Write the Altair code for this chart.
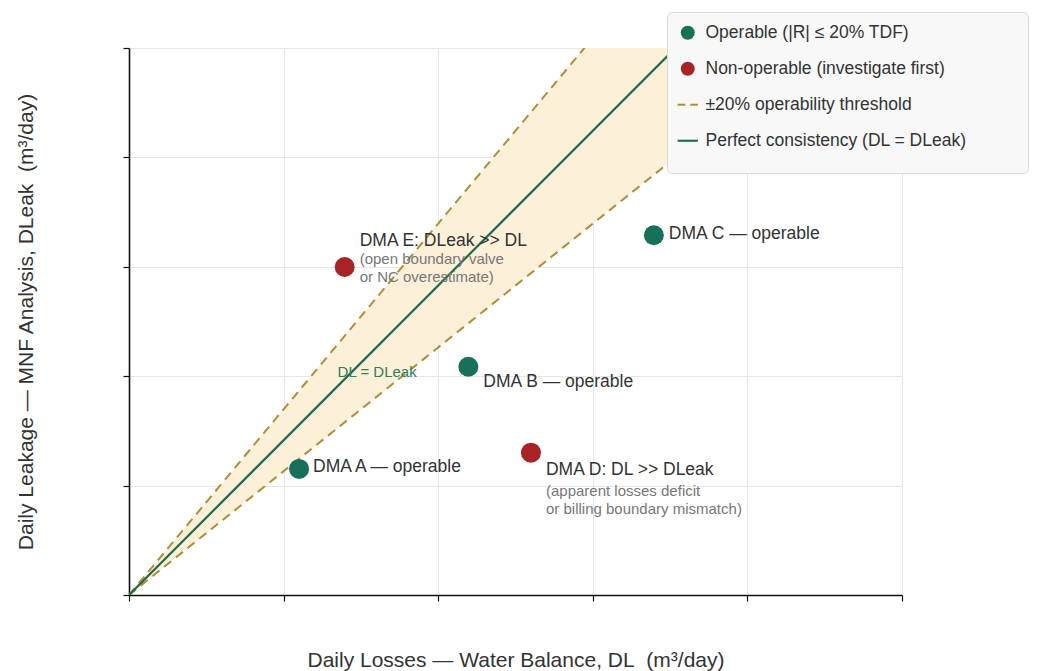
import altair as alt
import pandas as pd

# ---- data ----
dma = ["DMA A", "DMA B", "DMA C", "DMA D", "DMA E"]
dl = [220, 439, 679, 520, 279]          # Daily Losses (water balance)
dleak = [163, 295, 465, 184, 424]       # Daily Leakage (MNF analysis)
status = [
    "Operable (|R| ≤ 20% TDF)",
    "Operable (|R| ≤ 20% TDF)",
    "Operable (|R| ≤ 20% TDF)",
    "Non-operable (investigate first)",
    "Non-operable (investigate first)",
]
headline = [
    "DMA A — operable",
    "DMA B — operable",
    "DMA C — operable",
    "DMA D: DL >> DLeak",
    "DMA E: DLeak >> DL",
]
note = [
    "",
    "",
    "",
    "(apparent losses deficit\nor billing boundary mismatch)",
    "(open boundary valve\nor NC overestimate)",
]

legend_labels = [
    "Operable (|R| ≤ 20% TDF)",
    "Non-operable (investigate first)",
    "±20% operability threshold",
    "Perfect consistency (DL = DLeak)",
]
GREEN = "#16705a"
RED = "#a82326"
GOLD = "#b08d3c"
LINE_GREEN = "#1d6b4c"
BAND = "#fdf0d8"
legend_colors = [GREEN, RED, GOLD, LINE_GREEN]
DASH_PATH = "M-1.45,-0.15H-0.35V0.15H-1.45Z M0.35,-0.15H1.45V0.15H0.35Z"
SOLID_PATH = "M-1.45,-0.15H1.45V0.15H-1.45Z"
legend_shapes = ["circle", "circle", DASH_PATH, SOLID_PATH]

line_x = [0, 1000]
line_equal = [0, 1000]
line_upper = [0, 1200]
line_lower = [0, 800]

x_ticks = [0, 200, 400, 600, 800, 1000]
y_ticks = [0, 141.4, 282.8, 424.2, 565.6, 707]
x_max = 1000
y_max = 707

ref_label_x = [321]
ref_label_y = [288]
ref_label_text = ["DL = DLeak"]

FONT = "Liberation Sans"
PAD = "\u00a0" * 10 + "\u200b"  # widens the legend box like the reference

pts = pd.DataFrame({"dma": dma, "dl": dl, "dleak": dleak, "status": status,
                    "headline": headline, "note": note})
lines = pd.DataFrame({"x": line_x, "eq": line_equal, "up": line_upper, "lo": line_lower})
ref_df = pd.DataFrame({"x": ref_label_x, "y": ref_label_y, "t": ref_label_text})

xscale = alt.Scale(domain=[0, x_max], nice=False, zero=True)
yscale = alt.Scale(domain=[0, y_max], nice=False, zero=True)

xaxis = alt.Axis(values=x_ticks, labels=False, title="Daily Losses — Water Balance, DL\u00a0 (m³/day)",
                 titleFont=FONT, titleFontSize=21, titleFontWeight="normal", titleColor="#333333",
                 titlePadding=48, domainColor="#111111", domainWidth=1.6, tickColor="#111111",
                 tickSize=6, tickWidth=1.2, grid=True, gridColor="#e6e6e6")
yaxis = alt.Axis(values=y_ticks, labels=False, title="Daily Leakage — MNF Analysis, DLeak\u00a0 (m³/day)",
                 titleFont=FONT, titleFontSize=21, titleFontWeight="normal", titleColor="#333333",
                 titlePadding=86, domainColor="#111111", domainWidth=1.6, tickColor="#111111",
                 tickSize=6, tickWidth=1.2, grid=True, gridColor="#e6e6e6")

base = alt.Chart(lines)

band = base.mark_area(color=BAND, opacity=1, clip=True).encode(
    x=alt.X("x:Q", scale=xscale, axis=xaxis),
    y=alt.Y("lo:Q", scale=yscale, axis=yaxis),
    y2="up:Q",
)

upper = base.mark_line(color=GOLD, strokeWidth=2, strokeDash=[9, 6], clip=True).encode(
    x=alt.X("x:Q", scale=xscale), y=alt.Y("up:Q", scale=yscale))
lower = base.mark_line(color=GOLD, strokeWidth=2, strokeDash=[9, 6], clip=True).encode(
    x=alt.X("x:Q", scale=xscale), y=alt.Y("lo:Q", scale=yscale))
equal = base.mark_line(color=LINE_GREEN, strokeWidth=2.2, clip=True).encode(
    x=alt.X("x:Q", scale=xscale), y=alt.Y("eq:Q", scale=yscale))

ref_text = alt.Chart(ref_df).mark_text(font=FONT, fontSize=15, color="#2e7d5b",
                                       align="center", baseline="middle").encode(
    x=alt.X("x:Q", scale=xscale), y=alt.Y("y:Q", scale=yscale), text="t:N")

legend = alt.Legend(
    title="\u00a0", titleOrient="bottom", titleFontSize=8, titlePadding=4,
    orient="none", legendX=538, legendY=-36,
    fillColor="#f8f8f8", strokeColor="#d9d9d9", cornerRadius=5,
    padding=12, labelFont=FONT, labelFontSize=17.5, labelColor="#333333",
    symbolSize=196, rowPadding=17, labelOffset=9, symbolOpacity=1, symbolStrokeWidth=0,
    labelLimit=500,
    labelExpr=f"datum.label == 'Perfect consistency (DL = DLeak)' ? datum.label + '{PAD}' : datum.label",
)

points = alt.Chart(pts).mark_point(filled=True, size=400, opacity=1).encode(
    x=alt.X("dl:Q", scale=xscale),
    y=alt.Y("dleak:Q", scale=yscale),
    color=alt.Color("status:N", scale=alt.Scale(domain=legend_labels, range=legend_colors),
                    legend=legend),
    shape=alt.Shape("status:N", scale=alt.Scale(domain=legend_labels, range=legend_shapes)),
)

def label(name, dx, dy):
    return alt.Chart(pts).transform_filter(alt.datum.dma == name).mark_text(
        font=FONT, fontSize=17.5, color="#333333", align="left", baseline="middle", dx=dx, dy=dy
    ).encode(x=alt.X("dl:Q", scale=xscale), y=alt.Y("dleak:Q", scale=yscale), text="headline:N")

def sublabel(name, dx, dy):
    return alt.Chart(pts).transform_filter(alt.datum.dma == name).mark_text(
        font=FONT, fontSize=15, color="#777777", align="left", baseline="top", dx=dx, dy=dy,
        lineBreak="\n", lineHeight=18
    ).encode(x=alt.X("dl:Q", scale=xscale), y=alt.Y("dleak:Q", scale=yscale), text="note:N")

chart = alt.layer(
    band, upper, lower, equal, ref_text, points,
    label("DMA A", 14, -2), label("DMA B", 15, 15), label("DMA C", 15, -1),
    label("DMA D", 15, 17), label("DMA E", 15, -26),
    sublabel("DMA D", 15, 31), sublabel("DMA E", 15, -15),
).properties(
    width=773, height=547,
    padding={"left": 7, "top": 3, "right": 2, "bottom": 0},
).configure_view(stroke=None).configure(background="white")

chart.save("out.html", embed_options={"renderer": "svg", "actions": False})
